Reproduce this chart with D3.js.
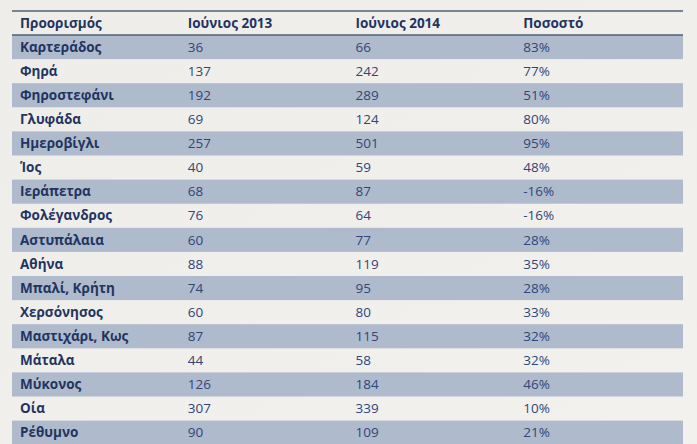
<!DOCTYPE html>
<html><head><meta charset="utf-8">
<script src="https://cdn.jsdelivr.net/npm/d3@7"></script>
<style>
html,body{margin:0;padding:0;background:#f0eeeb;}
svg{display:block;}
</style></head>
<body>
<svg id="c" width="697" height="444"></svg>
<script>
const headers = ["Προορισμός", "Ιούνιος 2013", "Ιούνιος 2014", "Ποσοστό"];
const destinations = ["Καρτεράδος","Φηρά","Φηροστεφάνι","Γλυφάδα","Ημεροβίγλι","Ίος","Ιεράπετρα","Φολέγανδρος","Αστυπάλαια","Αθήνα","Μπαλί, Κρήτη","Χερσόνησος","Μαστιχάρι, Κως","Μάταλα","Μύκονος","Οία","Ρέθυμνο"];
const june2013 = [36,137,192,69,257,40,68,76,60,88,74,60,87,44,126,307,90];
const june2014 = [66,242,289,124,501,59,87,64,77,119,95,80,115,58,184,339,109];
const percent = ["83%","77%","51%","80%","95%","48%","-16%","-16%","28%","35%","28%","33%","32%","32%","46%","10%","21%"];

const svg = d3.select("#c");
const W = 697, H = 444;
const left = 12, right = 683;
const headTop = 11, rowTop = 35, rowH = 24.1;

// background gradient
const defs = svg.append("defs");
const g1 = defs.append("linearGradient").attr("id","bg").attr("x1","0").attr("y1","0").attr("x2","1").attr("y2","1");
g1.append("stop").attr("offset","0").attr("stop-color","#efedea");
g1.append("stop").attr("offset","1").attr("stop-color","#f3f1ee");
svg.append("rect").attr("width",W).attr("height",H).attr("fill","url(#bg)");

const cols = d3.scaleBand().domain(d3.range(headers.length)).range([left, right]);
const rows = d3.scaleBand().domain(d3.range(destinations.length)).range([rowTop, rowTop + rowH*destinations.length]);

const table = destinations.map((d,i)=>[d, june2013[i], june2014[i], percent[i]]);

// shaded rows
svg.selectAll("rect.row").data(table).enter().filter((d,i)=>i%2===0)
  .append("rect").attr("class","row")
  .attr("x", left).attr("width", right-left)
  .attr("y", (d)=>rows(table.indexOf(d))).attr("height", rows.bandwidth())
  .attr("fill","#afbacd");

// lines
svg.append("line").attr("x1",left).attr("x2",right).attr("y1",headTop).attr("y2",headTop)
  .attr("stroke","#4d6275").attr("stroke-width",1.6);
svg.append("line").attr("x1",left).attr("x2",right).attr("y1",rowTop).attr("y2",rowTop)
  .attr("stroke","#4d6275").attr("stroke-width",1.6);

const font = "'Open Sans', 'Noto Sans', sans-serif";
// header
svg.selectAll("text.h").data(headers).enter().append("text").attr("class","h")
  .attr("x",(d,i)=>cols(i)+8).attr("y",(headTop+rowTop)/2)
  .attr("dy","0.35em")
  .attr("font-family",font).attr("font-weight","bold").attr("font-size",13.5)
  .attr("fill","#1f3560").text(d=>d);

const rg = svg.selectAll("g.r").data(table).enter().append("g").attr("class","r")
  .attr("transform",(d,i)=>`translate(0,${rows(i)+rows.bandwidth()/2})`);
rg.selectAll("text").data(d=>d).enter().append("text")
  .attr("x",(d,i)=>cols(i)+8).attr("dy","0.35em")
  .attr("font-family",font)
  .attr("font-weight",(d,i)=>i===0?"bold":"normal")
  .attr("font-size",13.5)
  .attr("fill",(d,i)=>i===0?"#1f3560":"#2f4677")
  .text(d=>d);
</script>
</body></html>
